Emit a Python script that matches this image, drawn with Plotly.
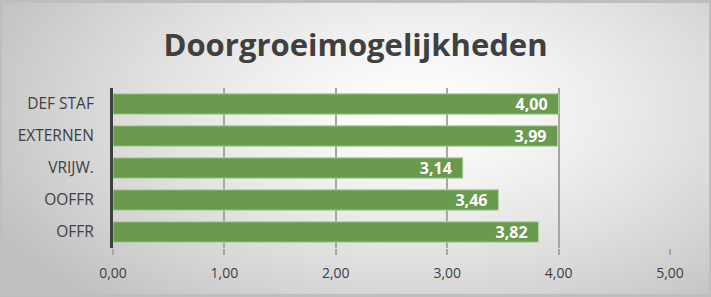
import base64, struct, zlib
import numpy as np
import plotly.graph_objects as go

categories = ["OFFR", "OOFFR", "VRIJW.", "EXTERNEN", "DEF STAF"]
values = [3.82, 3.46, 3.14, 3.99, 4.00]
tick_vals = [0, 1, 2, 3, 4, 5]

W, H = 711, 297
ML, MR, MT, MB = 113, 41, 88, 49

# radial gradient background image
yy, xx = np.mgrid[0:H, 0:W].astype(float)
cx, cy = 420, 110
d = np.sqrt(((xx - cx) / 480.0) ** 2 + ((yy - cy) / 260.0) ** 2)
d = np.clip(d, 0, 1)
val = 255 - (255 - 192) * d ** 1.3
img = np.clip(val, 0, 255).astype(np.uint8)
img[:3, :] = 190; img[-3:, :] = 190; img[:, :2] = 190; img[:, -2:] = 190
rgb = np.stack([img, img, img], axis=-1)
raw = b"".join(b"\x00" + rgb[r].tobytes() for r in range(H))
def chunk(t, data):
    c = struct.pack(">I", len(data)) + t + data
    return c + struct.pack(">I", zlib.crc32(t + data) & 0xffffffff)
png = b"\x89PNG\r\n\x1a\n" + chunk(b"IHDR", struct.pack(">IIBBBBB", W, H, 8, 2, 0, 0, 0)) \
      + chunk(b"IDAT", zlib.compress(raw, 9)) + chunk(b"IEND", b"")
uri = "data:image/png;base64," + base64.b64encode(png).decode()

pw, ph = W - ML - MR, H - MT - MB

fig = go.Figure(go.Bar(
    y=categories, x=values, orientation="h",
    marker=dict(color="#6a9a4e", line=dict(color="#b4d6a0", width=1)),
    width=0.64,
    text=values, texttemplate="%{x:.2f}\u2002", textposition="inside",
    insidetextanchor="end", constraintext="none", textangle=0,
    textfont=dict(family="Open Sans", size=16, color="white", weight="bold"),
    cliponaxis=False,
))

fig.update_layout(
    width=W, height=H,
    margin=dict(l=ML, r=MR, t=MT, b=MB, pad=0),
    paper_bgcolor="rgba(0,0,0,0)", plot_bgcolor="rgba(0,0,0,0)",
    separators=",.",
    showlegend=False,
    uniformtext=dict(minsize=16, mode="show"),
    title=dict(text="<b>Doorgroeimogelijkheden</b>", x=0.5, xanchor="center",
               y=1 - 45 / H, yanchor="middle",
               font=dict(family="Open Sans", size=31, color="#404040")),
    images=[dict(source=uri, xref="paper", yref="paper",
                 x=-ML / pw, y=1 + MT / ph, sizex=W / pw, sizey=H / ph,
                 sizing="stretch", xanchor="left", yanchor="top", layer="below")],
    xaxis=dict(range=[0, 5], tickvals=tick_vals, tickformat=".2f",
               showgrid=True, gridcolor="#a6a6a6", gridwidth=1.5,
               ticks="outside", ticklen=6, tickcolor="#a6a6a6", tickwidth=1.5,
               ticklabelstandoff=6,
               zeroline=False, showline=False,
               tickfont=dict(family="Open Sans", size=14, color="#404040"),
               fixedrange=True),
    yaxis=dict(showline=True, linecolor="#404040", linewidth=3,
               showgrid=False, ticks="", ticklabelstandoff=13,
               tickfont=dict(family="Open Sans", size=15.5, color="#404040"),
               fixedrange=True),
    bargap=0.36,
)

fig.write_html("out.html")
